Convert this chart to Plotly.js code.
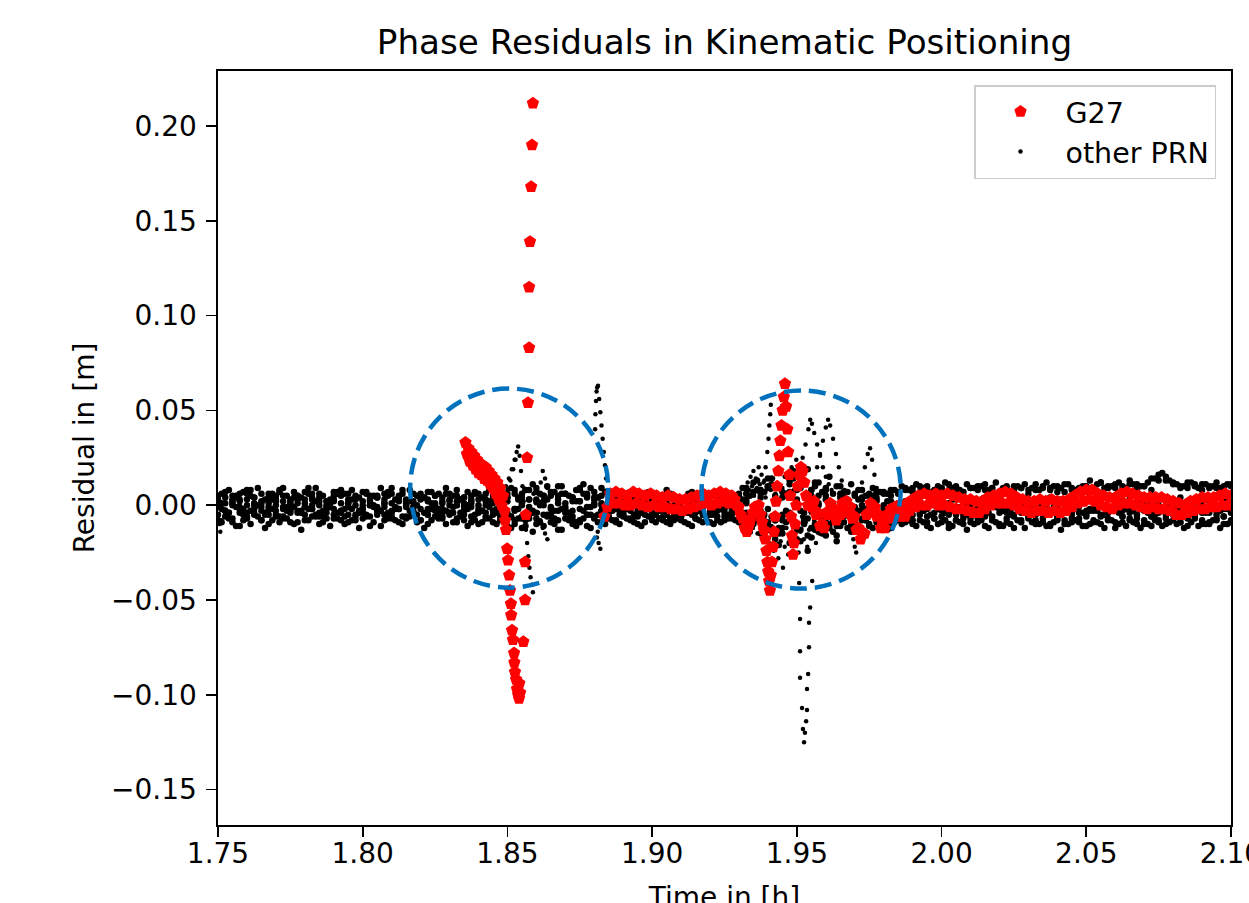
<!DOCTYPE html>
<html><head><meta charset="utf-8">
<script src="https://cdn.plot.ly/plotly-3.0.1.min.js"></script>
<style>html,body{margin:0;padding:0;overflow:hidden;background:#fff}</style>
</head><body><div id="chart" style="width:1280px;height:930px"></div>
<script>
// ---------- axis ticks ----------
const xTicks = [1.75,1.80,1.85,1.90,1.95,2.00,2.05,2.10];
const yTicks = [-0.15,-0.10,-0.05,0.00,0.05,0.10,0.15,0.20];

// ---------- other PRN: epoch grids [h] and residuals [mm] ----------
const T = [1.75,1.7525,1.755,1.7575,1.76,1.7625,1.765,1.7675,1.77,1.7725,1.775,1.7775,1.78,1.7825,1.785,1.7875,1.79,1.7925,1.795,1.7975,
1.8,1.8025,1.805,1.8075,1.81,1.8125,1.815,1.8175,1.82,1.8225,1.825,1.8275,1.83,1.8325,1.835,1.8375,1.84,1.8425,
1.845,1.8475,1.85,1.8525,1.855,1.8575,1.86,1.8625,1.865,1.8675,1.87,1.8725,1.875,1.8775,1.88,1.8825,
1.885,1.8875,1.89,1.8925,1.895,1.8975,1.9,1.9025,1.905,1.9075,1.91,1.9125,1.915,1.9175,1.92,1.9225,1.925,1.9275,
1.93,1.9325,1.935,1.9375,1.94,1.9425,1.945,1.9475,1.95,1.9525,1.955,1.9575,1.96,1.9625,1.965,1.9675,1.97,1.9725,1.975,1.9775,1.98,1.9825,1.985,
1.9875,1.99,1.9925,1.995,1.9975,2.0,2.0025,2.005,2.0075,2.01,2.0125,2.015,2.0175,2.02,2.0225,2.025,2.0275,2.03,2.0325,2.035,2.0375,2.04,2.0425,2.045,2.0475,2.05,2.0525,2.055,2.0575,2.06,2.0625,2.065,2.0675,2.07,2.0725,2.075,2.0775,2.08,2.0825,2.085,2.0875,2.09,2.0925,2.095,2.0975,2.1];

const sat1 = [5,7,3,6,8,4,2,6,5,9,3,5,7,4,6,2,5,8,6,3,7,5,4,6,9,5,3,6,4,7,5,2,6,8,4,5,3,6,
5,7,4,8,6,3,9,5,7,10,6,4,8,5,7,9,
4,6,3,5,7,2,6,4,8,5,3,6,4,7,5,3,6,4,
6,9,12,8,14,10,7,13,16,11,8,12,9,6,10,7,5,8,6,4,7,5,6,
8,9,7,10,8,9,11,8,7,9,10,8,9,7,8,10,9,8,11,9,8,10,7,9,8,10,9,12,10,9,8,11,9,10,8,13,15,12,10,9,11,8,10,9,8,10];
const sat2 = [0,-3,2,-1,3,-4,1,-2,0,2,-3,1,-1,3,0,-2,2,-4,1,0,-2,3,-1,1,-3,2,0,-1,3,-2,1,-4,0,2,-1,1,-3,0,
2,-1,4,-3,1,-5,3,0,-2,5,1,-3,2,-1,4,0,
-2,0,-4,-1,-3,1,-5,-2,0,-3,-1,-4,-2,1,-3,-1,-4,-2,
-1,3,-4,6,-2,-8,4,-5,2,-10,-3,5,-6,1,-4,3,-2,0,-3,2,-1,1,-2,
-3,-1,-4,-2,0,-3,-1,-5,-2,-4,-1,-3,0,-2,-4,-1,-3,-2,-5,-1,-3,0,-2,-4,-1,-3,-2,-1,-4,-2,-3,-1,-5,-2,-3,0,-2,-4,-1,-3,-2,-4,-1,-3,-2,-1];
const sat3 = [-5,-3,-7,-4,-6,-2,-8,-5,-3,-6,-4,-9,-5,-2,-6,-4,-7,-3,-5,-8,-4,-6,-3,-5,-7,-2,-6,-4,-8,-5,-3,-6,-4,-7,-5,-9,-4,-6,
-5,-8,-4,-10,-6,-3,-7,-11,-5,-8,-4,-6,-9,-5,-7,-3,
-6,-8,-5,-7,-4,-9,-6,-7,-5,-8,-6,-4,-7,-9,-5,-6,-8,-5,
-7,-4,-10,-6,-13,-8,-15,-5,-18,-9,-12,-6,-16,-8,-11,-5,-9,-7,-10,-6,-8,-12,-7,
-6,-8,-5,-9,-7,-6,-10,-8,-5,-7,-9,-6,-8,-11,-7,-6,-9,-5,-8,-7,-10,-6,-8,-7,-9,-5,-8,-6,-7,-9,-6,-8,-7,-10,-6,-8,-7,-5,-9,-7,-6,-8,-10,-7,-6,-8];
const sat4 = [2,4,0,3,6,1,-1,4,2,5,0,3,1,6,2,-1,3,5,1,4,2,0,5,3,1,4,-1,2,6,3,0,4,2,5,1,3,0,2,
3,1,6,-2,4,8,2,5,-1,3,6,2,9,4,1,5,
2,4,1,3,0,5,2,1,4,0,3,2,5,1,3,0,2,4,
4,1,7,-3,9,3,-6,11,2,-4,8,0,5,-2,6,2,-1,4,1,3,0,2,1,
2,1,3,0,2,4,1,3,2,0,1,3,2,4,1,2,0,3,1,2,4,1,3,2,0,2,3,1,4,2,1,3,2,0,1,3,2,1,4,2,3,1,2,0,3,2];
const sat5 = [-1,-3,1,-2,-4,0,-3,-1,-5,-2,1,-3,-1,-2,-4,0,-2,-3,-1,-5,-2,0,-3,-1,-4,-2,1,-3,-2,-5,-1,-2,-4,0,-3,-1,-2,-4,
-3,0,-5,-2,-7,-1,-4,2,-6,-3,-1,-8,-2,-5,0,-3,
-4,-2,-5,-3,-6,-1,-4,-3,-5,-2,-6,-3,-4,-1,-5,-3,-2,-4,
-3,2,-6,0,-9,5,-12,-4,8,-7,-2,-14,3,-5,-9,0,-6,-3,-1,-4,-2,-5,-3,
-4,-5,-3,-6,-4,-2,-5,-3,-7,-4,-5,-3,-6,-4,-2,-5,-4,-6,-3,-5,-4,-7,-3,-5,-4,-6,-3,-5,-4,-2,-6,-4,-5,-3,-6,-4,-5,-3,-4,-6,-5,-3,-4,-5,-6,-4];
const sat6 = [3,1,5,2,0,4,6,1,3,-1,2,5,3,0,4,2,7,1,3,5,0,2,4,1,6,3,2,-1,4,2,5,1,3,0,4,2,6,3,
1,4,2,6,0,3,7,2,5,1,-2,4,2,6,3,1,
1,3,-1,2,4,0,2,3,1,-2,2,0,3,1,-1,2,4,1,
2,6,-2,4,10,1,-5,7,3,-8,5,1,8,-1,4,2,6,3,5,7,6,8,7,
9,7,10,8,6,9,8,10,7,9,8,11,9,7,10,8,9,6,8,10,9,7,11,8,9,10,8,12,9,11,10,13,11,10,14,16,13,11,9,12,10,11,9,12,10,11];
const sat7 = [-8,-6,-9,-11,-7,-5,-8,-10,-6,-7,-9,-4,-8,-6,-10,-7,-5,-8,-9,-6,-7,-11,-5,-8,-6,-9,-7,-4,-8,-10,-6,-7,-5,-9,-8,-6,-10,-7,
-9,-6,-11,-8,-12,-7,-10,-5,-9,-13,-7,-10,-8,-11,-6,-9,
-7,-9,-6,-8,-10,-5,-8,-7,-9,-6,-8,-10,-7,-5,-9,-8,-6,-7,
-9,-12,-6,-15,-10,-18,-8,-20,-13,-7,-17,-11,-9,-14,-7,-12,-10,-8,-11,-9,-13,-10,-8,
-9,-10,-8,-11,-7,-9,-12,-8,-10,-9,-7,-11,-8,-10,-9,-12,-8,-7,-10,-9,-11,-8,-10,-9,-7,-11,-9,-10,-8,-12,-9,-7,-10,-8,-11,-9,-10,-8,-9,-11,-7,-10,-9,-8,-10,-9];

const T2 = [1.75125,1.75375,1.75625,1.75875,1.76125,1.76375,1.76625,1.76875,1.77125,1.77375,1.77625,1.77875,1.78125,1.78375,1.78625,1.78875,1.79125,1.79375,1.79625,1.79875,
1.80125,1.80375,1.80625,1.80875,1.81125,1.81375,1.81625,1.81875,1.82125,1.82375,1.82625,1.82875,1.83125,1.83375,1.83625,1.83875,1.84125,1.84375,
1.84625,1.84875,1.85125,1.85375,1.85625,1.85875,1.86125,1.86375,1.86625,1.86875,1.87125,1.87375,1.87625,1.87875,1.88125,1.88375,
1.88625,1.88875,1.89125,1.89375,1.89625,1.89875,1.90125,1.90375,1.90625,1.90875,1.91125,1.91375,1.91625,1.91875,1.92125,1.92375,1.92625,1.92875,
1.93125,1.93375,1.93625,1.93875,1.94125,1.94375,1.94625,1.94875,1.95125,1.95375,1.95625,1.95875,1.96125,1.96375,1.96625,1.96875,1.97125,1.97375,1.97625,1.97875,1.98125,1.98375,
1.98625,1.98875,1.99125,1.99375,1.99625,1.99875,2.00125,2.00375,2.00625,2.00875,2.01125,2.01375,2.01625,2.01875,2.02125,2.02375,2.02625,2.02875,2.03125,2.03375,2.03625,2.03875,2.04125,2.04375,2.04625,2.04875,2.05125,2.05375,2.05625,2.05875,2.06125,2.06375,2.06625,2.06875,2.07125,2.07375,2.07625,2.07875,2.08125,2.08375,2.08625,2.08875,2.09125,2.09375,2.09625,2.09875];

const sat8 = [6,8,4,7,5,9,3,6,8,5,7,4,6,9,5,3,7,6,8,4,6,5,9,7,3,6,8,5,4,7,6,9,5,3,7,6,4,8,
7,5,9,4,8,11,6,3,7,10,5,8,6,9,4,7,
5,3,6,4,2,7,5,3,6,2,4,7,3,5,6,2,4,5,
9,5,13,7,11,17,6,14,9,19,12,7,15,10,6,11,8,5,9,7,6,8,
10,8,11,9,7,10,12,9,8,11,9,10,8,12,9,7,10,11,9,8,12,10,9,11,8,10,13,11,9,10,12,9,11,10,12,14,17,13,11,10,12,9,11,10,9,11];
const sat9 = [-2,-4,-1,-5,-3,0,-4,-2,-6,-3,-1,-4,-2,-5,-3,-1,-4,-6,-2,-3,-5,-1,-3,-4,-2,-6,-3,0,-4,-2,-5,-3,-1,-4,-2,-5,-3,-1,
-4,-1,-6,-2,-8,-3,0,-5,-7,-2,-4,-9,-3,-1,-5,-2,
-3,-5,-2,-6,-4,-1,-5,-3,-7,-4,-2,-5,-3,-6,-4,-2,-5,-3,
-4,-8,-2,-11,-6,-15,-3,-9,-19,-7,-13,-4,-10,-16,-6,-11,-3,-8,-5,-7,-4,-6,
-2,-4,-1,-3,-5,-2,-4,-3,-1,-5,-3,-2,-4,-1,-3,-5,-2,-4,-3,-1,-4,-2,-5,-3,-1,-4,-2,-3,-5,-2,-4,-1,-3,-2,-4,-5,-2,-3,-1,-4,-3,-2,-4,-1,-3,-2];
const sat10 = [1,-4,5,-2,8,0,-5,3,7,-1,4,-3,9,2,-6,1,6,-2,3,-4,7,0,-3,5,-1,8,2,-5,4,1,-2,6,-4,3,0,7,-3,2,
-2,5,-6,3,8,-4,1,10,-3,6,-7,2,11,-5,4,-1,
0,-3,2,-5,1,-2,3,-6,-1,2,-4,0,-3,1,-5,-2,0,-1,
3,-9,8,-5,14,-12,5,18,-3,-16,10,-7,2,-11,7,-4,3,-2,5,-6,2,-3,
0,-2,1,-3,2,-1,0,3,-2,1,-4,0,2,-1,1,-3,0,2,-2,1,0,-1,3,-2,0,1,-3,2,0,-1,2,-2,1,0,-1,3,-2,0,1,-2,2,0,-1,1,-2,0];
const sat11 = [-9,-7,-11,-8,-10,-6,-12,-8,-9,-7,-10,-13,-8,-6,-9,-11,-7,-10,-8,-12,-6,-9,-11,-7,-8,-10,-6,-9,-12,-8,-7,-10,-9,-6,-11,-8,-9,-7,
-10,-8,-12,-7,-11,-14,-9,-6,-10,-13,-8,-11,-7,-12,-9,-10,
-8,-10,-7,-9,-11,-6,-9,-8,-10,-7,-9,-11,-8,-6,-10,-9,-7,-8,
-11,-14,-8,-17,-12,-21,-9,-16,-13,-24,-10,-15,-12,-19,-9,-14,-11,-8,-12,-10,-13,-9,
-10,-8,-11,-9,-12,-10,-8,-11,-9,-13,-10,-8,-12,-9,-11,-10,-8,-12,-9,-10,-11,-9,-13,-10,-8,-11,-10,-9,-12,-8,-10,-11,-9,-12,-10,-8,-11,-9,-10,-12,-9,-11,-10,-8,-12,-10];

// ---------- other PRN: disturbed arcs [t (h), residual (mm)] ----------
const edgeOut = [[1.7506,-10],[1.7508,-14],[1.7512,-8]];
const c1Rise = [[1.8465,-2],[1.8475,2],[1.8485,6],[1.8495,10],[1.8505,14],[1.8515,19],[1.8525,24],[1.8532,28],[1.8537,31],
 [1.8542,26],[1.8547,18],[1.8552,10],[1.8556,2],[1.8560,-6],[1.8564,-13],[1.8568,-20],[1.8572,-27],[1.8576,-33],[1.8580,-38],[1.8584,-42],[1.8588,-46],
 [1.8480,-1],[1.8490,3],[1.8500,8],[1.8510,13],[1.8520,19],[1.8528,24]];
const c1After = [[1.8590,6],[1.8598,1],[1.8606,-4],[1.8614,-8],[1.8622,-12],[1.8630,-15],[1.8638,-18],
 [1.8615,12],[1.8622,18],[1.8630,14],[1.8638,9],[1.8646,5]];
const c1Spike = [[1.8803,40],[1.8804,48],[1.8806,55],[1.8808,60],[1.8810,62],[1.8813,63],[1.8817,56],[1.8821,49],[1.8825,42],[1.8829,35],
 [1.8833,28],[1.8837,21],[1.8841,14],[1.8845,8],[1.8809,-17],[1.8815,-20],[1.8821,-23],[1.8812,-14]];
const c2Up = [[1.9385,12],[1.9392,20],[1.9398,28],[1.9402,35],[1.9405,42],[1.9408,48],[1.9410,53]];
const c2Peak1 = [[1.9500,10],[1.9510,18],[1.9520,25],[1.9530,32],[1.9540,40],[1.9546,45],[1.9552,43],[1.9560,38],[1.9570,32],[1.9580,26],[1.9590,20],[1.9600,15],[1.9610,11],[1.9620,8]];
const c2Peak2 = [[1.9570,20],[1.9580,27],[1.9590,34],[1.9600,41],[1.9608,45],[1.9615,42],[1.9625,35],[1.9635,27],[1.9645,20],[1.9655,13],[1.9665,8]];
const c2Peak3 = [[1.9725,12],[1.9735,20],[1.9745,27],[1.9753,30],[1.9760,24],[1.9768,16],[1.9776,9]];
const c2Dip = [[1.9685,-10],[1.9690,-14],[1.9695,-18],[1.9700,-22],[1.9705,-25]];
const c2Deep = [[1.9508,-41],[1.9553,-40],[1.9546,-54],[1.9511,-60],[1.9542,-62],[1.9542,-75],[1.9511,-77],[1.9511,-91],[1.9539,-89],[1.9535,-97],
 [1.9518,-107],[1.9535,-108],[1.9532,-114],[1.9521,-118],[1.9528,-120],[1.9525,-125]];
const c2Cluster = [[1.9330,12],[1.9335,8],[1.9340,15],[1.9345,10],[1.9350,18],[1.9352,5],[1.9358,14],[1.9362,9],[1.9368,20],[1.9372,11],[1.9378,16],[1.9382,7],[1.9388,13],[1.9392,4],[1.9396,10],
 [1.9340,-8],[1.9348,-12],[1.9356,-6],[1.9364,-15],[1.9372,-10],[1.9380,-18],[1.9388,-7],[1.9396,-14],[1.9404,-20],[1.9412,-11],
 [1.9420,-24],[1.9428,-16],[1.9436,-28],[1.9444,-19],[1.9452,-33],[1.9458,-22],[1.9464,-12],[1.9470,-26],[1.9476,-8],[1.9482,-15],
 [1.9488,-5],[1.9494,-20],[1.9500,-10],[1.9506,-25],[1.9512,-14],[1.9518,-6],[1.9524,-18],[1.9530,-9],[1.9536,-22],[1.9542,-13],
 [1.9548,-4],[1.9554,-17],[1.9560,-8],[1.9566,-20],[1.9572,-11],[1.9578,-15],[1.9584,-6],[1.9590,-12],
 [1.9410,8],[1.9418,14],[1.9426,6],[1.9434,11],[1.9442,3],[1.9450,9],[1.9458,15],[1.9466,5],[1.9474,12],[1.9482,20],[1.9490,8],[1.9498,24],[1.9506,14]];

// ---------- G27 [t (h), residual (mm)] ----------
const g27Drift = [[1.8355,33],[1.8360,27],[1.8365,30],[1.8370,23],[1.8375,28],[1.8380,21],[1.8385,26],[1.8390,19],[1.8395,24],[1.8400,17],
 [1.8405,22],[1.8410,16],[1.8415,21],[1.8420,14],[1.8425,20],[1.8430,13],[1.8435,18],[1.8440,11],[1.8445,16],[1.8450,9],
 [1.8455,14],[1.8460,6],[1.8465,12],[1.8470,3],[1.8475,9],[1.8480,0],[1.8485,5],[1.8490,-3]];
const g27Drop = [[1.8492,-8],[1.8495,-13],[1.8499,-23],[1.8502,-29],[1.8506,-37],[1.8509,-45],[1.8512,-52],[1.8513,-58],[1.8516,-66],[1.8519,-71],
 [1.8523,-78],[1.8524,-83],[1.8526,-88],[1.8530,-92],[1.8533,-97],[1.8537,-100],[1.8540,-102],[1.8544,-99],[1.8541,-94]];
const g27Rise = [[1.8555,-72],[1.8561,-50],[1.8561,-30],[1.8564,-5],[1.8568,25],[1.8571,54],[1.8575,83],[1.8575,115],[1.8578,139],[1.8582,168],[1.8585,190],[1.8588,212]];
const g27Band = [[1.8835,-6],[1.8845,-1],[1.8855,6],[1.8865,1],[1.8875,7],[1.8885,1],[1.8895,6],[1.8905,0],[1.8915,5],[1.8925,0],
 [1.8935,7],[1.8945,1],[1.8955,6],[1.8965,0],[1.8975,5],[1.8985,-1],[1.8995,6],[1.9005,0],[1.9015,5],[1.9025,-1],
 [1.9035,4],[1.9045,-1],[1.9055,5],[1.9065,-2],[1.9075,4],[1.9085,-2],[1.9095,3],[1.9105,-3],[1.9115,3],[1.9125,-2],
 [1.9135,4],[1.9145,-1],[1.9155,5],[1.9165,0],[1.9175,6],[1.9185,1],[1.9195,5],[1.9205,0],[1.9215,6],[1.9225,1],
 [1.9235,7],[1.9245,2],[1.9255,6],[1.9265,1],[1.9275,5]];
const g27Burst = [[1.9285,3],[1.9292,0],[1.9299,-1],[1.9306,-5],[1.9313,-7],[1.9320,-12],[1.9327,-14],[1.9334,-11],[1.9341,-7],[1.9348,-4],
 [1.9355,-1],[1.9362,-3],[1.9368,0],[1.9374,-5],[1.9380,-9],[1.9386,-13],[1.9391,-18],[1.9395,-24],[1.9398,-30],[1.9401,-35],
 [1.9404,-40],[1.9407,-45],[1.9410,-37],[1.9414,-30],[1.9418,-22],[1.9421,-14],[1.9425,-6],[1.9428,2],[1.9432,10],[1.9436,18],
 [1.9440,26],[1.9443,34],[1.9447,42],[1.9451,50],[1.9455,57],[1.9459,64],[1.9463,52],[1.9467,40],[1.9470,28],[1.9474,16],
 [1.9477,5],[1.9480,-6],[1.9483,-16],[1.9487,-26],[1.9490,-20],[1.9494,-10],[1.9498,0],[1.9503,10],[1.9508,16],[1.9514,20],
 [1.9520,18],[1.9526,12],[1.9532,5],[1.9538,0]];
const g27Wiggle = [[1.9545,0],[1.9552,-1],[1.9559,2],[1.9566,-5],[1.9573,-4],[1.9580,-11],[1.9587,-10],[1.9594,-12],[1.9601,-4],[1.9608,-5],
 [1.9615,1],[1.9622,-4],[1.9629,-2],[1.9636,-8],[1.9643,-3],[1.9650,-5],[1.9657,1],[1.9664,-1],[1.9671,2],[1.9678,-4],
 [1.9685,-1],[1.9692,-7],[1.9699,-6],[1.9706,-13],[1.9713,-12],[1.9720,-18],[1.9727,-15],[1.9734,-15],[1.9741,-5],[1.9748,-4],
 [1.9755,1],[1.9762,-4],[1.9769,-1],[1.9776,-6],[1.9783,-5],[1.9790,-12],[1.9797,-10],[1.9804,-12],[1.9811,-5],[1.9818,-7],
 [1.9825,-2],[1.9832,-5],[1.9839,-1],[1.9846,-5],[1.9853,0],[1.9860,-6],[1.9867,-4],[1.9874,-6],[1.9881,1]];
const g27Tail = [[1.989,-3],[1.990,3],[1.991,-1],[1.992,5],[1.993,0],[1.994,6],[1.995,0],[1.996,5],[1.997,1],[1.998,6],
 [1.999,0],[2.000,5],[2.001,0],[2.002,6],[2.003,-1],[2.004,5],[2.005,-2],[2.006,4],[2.007,-2],[2.008,3],
 [2.009,-3],[2.010,3],[2.011,-4],[2.012,2],[2.013,-4],[2.014,2],[2.015,-2],[2.016,4],[2.017,0],[2.018,5],
 [2.019,1],[2.020,6],[2.021,1],[2.022,7],[2.023,1],[2.024,6],[2.025,0],[2.026,4],[2.027,-2],[2.028,3],
 [2.029,-3],[2.030,2],[2.031,-4],[2.032,2],[2.033,-3],[2.034,3],[2.035,-3],[2.036,2],[2.037,-4],[2.038,3],
 [2.039,-3],[2.040,2],[2.041,-4],[2.042,2],[2.043,-3],[2.044,3],[2.045,-1],[2.046,5],[2.047,1],[2.048,7],
 [2.049,2],[2.050,8],[2.051,3],[2.052,8],[2.053,2],[2.054,6],[2.055,0],[2.056,5],[2.057,-1],[2.058,4],
 [2.059,-2],[2.060,4],[2.061,0],[2.062,6],[2.063,1],[2.064,7],[2.065,1],[2.066,6],[2.067,0],[2.068,5],
 [2.069,-1],[2.070,4],[2.071,-2],[2.072,4],[2.073,-1],[2.074,4],[2.075,-2],[2.076,4],[2.077,-2],[2.078,3],
 [2.079,-3],[2.080,2],[2.081,-5],[2.082,1],[2.083,-5],[2.084,0],[2.085,-4],[2.086,2],[2.087,-3],[2.088,3],
 [2.089,-2],[2.090,4],[2.091,-2],[2.092,4],[2.093,-1],[2.094,4],[2.095,-1],[2.096,5],[2.097,0],[2.098,6],
 [2.099,0],[2.100,5]];

// ---------- highlighted regions (dashed circles): [t0, t1, r0, r1] in h / m ----------
const circle1 = [1.8164, 1.8848, -0.0435, 0.0615];
const circle2 = [1.9171, 1.9859, -0.0440, 0.0605];

// ---------- build traces ----------
const gx = [], gy = [];
[sat1, sat2, sat3, sat4, sat5, sat6, sat7].forEach(s => {
  for (let i = 0; i < Math.min(T.length, s.length); i++) { gx.push(T[i]); gy.push(s[i] / 1000); }
});
[sat8, sat9, sat10, sat11].forEach(s => {
  for (let i = 0; i < Math.min(T2.length, s.length); i++) { gx.push(T2[i]); gy.push(s[i] / 1000); }
});
const ex = [], ey = [];
[edgeOut, c1Rise, c1After, c1Spike, c2Up, c2Peak1, c2Peak2, c2Peak3, c2Dip, c2Deep, c2Cluster].forEach(a =>
  a.forEach(p => { ex.push(p[0]); ey.push(p[1] / 1000); }));
const rx = [], ry = [];
[g27Drift, g27Drop, g27Rise, g27Band, g27Burst, g27Wiggle, g27Tail].forEach(a =>
  a.forEach(p => { rx.push(p[0]); ry.push(p[1] / 1000); }));

const FONT = 'DejaVu Sans, Verdana, sans-serif';
const traces = [
  {type:'scatter', mode:'markers', name:'other PRN', x:gx, y:gy, showlegend:false, legendgroup:'o',
   marker:{color:'#000000', size:6.5, line:{width:0}}},
  {type:'scatter', mode:'markers', name:'other PRN', x:ex, y:ey, legendgroup:'o',
   marker:{color:'#000000', size:4.5, line:{width:0}}},
  {type:'scatter', mode:'markers', name:'G27', x:rx, y:ry,
   marker:{color:'#ff0000', size:13, symbol:'pentagon', line:{width:0}}}
];
const circleShape = c => ({type:'circle', xref:'x', yref:'y', x0:c[0], x1:c[1], y0:c[2], y1:c[3],
  line:{color:'#0072bd', width:4.5, dash:'17px,8px'}, layer:'above'});

const axisCommon = {showgrid:false, zeroline:false, showline:true, mirror:true, linecolor:'#000', linewidth:1.6,
  ticks:'outside', ticklen:10, tickwidth:1.6, tickcolor:'#000', tickfont:{family:FONT, size:28, color:'#000'},
  tickformat:'.2f', automargin:false};

// plot area: x 218..1231 px, y 71..825 px (page is cropped to the 1249x903 window)
const layout = {
  width:1280, height:930, paper_bgcolor:'#fff', plot_bgcolor:'#fff',
  margin:{l:218, r:49, t:71, b:105},
  font:{family:FONT, color:'#000'},
  title:{text:'Phase Residuals in Kinematic Positioning', font:{family:FONT, size:34.2, color:'#000'},
         xref:'paper', x:0.5, xanchor:'center', yref:'container', y:1-42/930, yanchor:'middle'},
  xaxis:Object.assign({}, axisCommon, {range:[1.75, 2.10], tickvals:xTicks, ticklabelstandoff:-7,
         title:{text:'Time in [h]', font:{family:FONT, size:28, color:'#000'}, standoff:18}}),
  yaxis:Object.assign({}, axisCommon, {range:[-0.1687, 0.229], tickvals:yTicks, ticklabelstandoff:4,
         title:{text:'Residual in [m]', font:{family:FONT, size:28, color:'#000'}, standoff:8}}),
  showlegend:true,
  legend:{x:0.9852, xanchor:'right', y:0.9814, yanchor:'top', traceorder:'reversed',
          bgcolor:'rgba(255,255,255,0.85)', bordercolor:'#cccccc', borderwidth:1.5,
          font:{family:FONT, size:28.5, color:'#000'}, itemwidth:80},
  shapes:[circleShape(circle1), circleShape(circle2)]
};
Plotly.newPlot('chart', traces, layout, {displayModeBar:false, staticPlot:true});
</script></body></html>
